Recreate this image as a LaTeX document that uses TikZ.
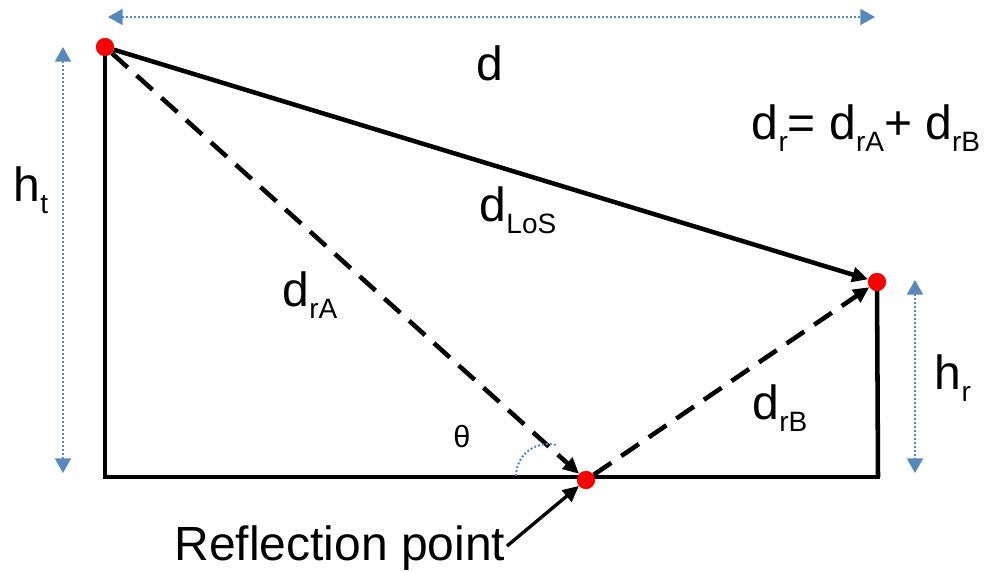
\documentclass[tikz,border=0pt]{standalone}
\usepackage{fontspec}
\setmainfont{Liberation Sans}
\usetikzlibrary{arrows.meta}
\newcommand\sbs[1]{\raisebox{-9pt}{\fontsize{21}{21}\selectfont #1}}
\definecolor{dimblue}{RGB}{84,136,190}
\tikzset{
  lbl/.style={font=\fontsize{36}{40}\selectfont, inner sep=0pt},
  thick line/.style={line width=3.4pt, black},
  dashline/.style={line width=3.4pt, black, dash pattern=on 16pt off 9pt},
  blk arrow/.style={-{Triangle[length=12pt,width=11pt]}},
  dim/.style={dimblue, line width=1.5pt, dash pattern=on 1.5pt off 1.5pt,
    {Triangle[length=11pt,width=12pt]}-{Triangle[length=11pt,width=12pt]}},
  dot/.style={circle, fill=red, minimum size=13.5pt, inner sep=0pt}
}
\begin{document}
\begin{tikzpicture}[x=0.75pt,y=-0.75pt]
\useasboundingbox (0,0) rectangle (986,572);
% points
\node[dot] (A) at (105,47) {};
\node[dot] (B) at (877,282) {};
\node[dot] (R) at (586,480) {};
\coordinate (GL) at (105,477);
\coordinate (GR) at (880,477);
\coordinate (BR) at (878,477);
% frame
\draw[thick line] (A.center) -- (GL) -- (GR);
\draw[thick line] (B.center) -- (BR);
\draw[thick line, blk arrow] (A) -- (B);
\draw[dashline, blk arrow] (A) -- (R);
\draw[dashline, blk arrow] (R) -- (B);
\node[dot] at (A) {};
\node[dot] at (B) {};
\node[dot] at (R) {};
% dimension arrows
\coordinate (T1) at (108,17);
\coordinate (T2) at (875,17);
\draw[dim] (T1) -- (T2);
\coordinate (L1) at (63,47);
\coordinate (L2) at (63,473);
\draw[dim] (L1) -- (L2);
\coordinate (R1) at (915,280);
\coordinate (R2) at (915,473);
\draw[dim] (R1) -- (R2);
% angle arc
\coordinate (th0) at (516,476);
\draw[dimblue, line width=1.5pt, dash pattern=on 1.5pt off 1.5pt] (th0) arc[start angle=180, end angle=287, radius=32];
% labels
\node[lbl] (d) at (490,63) {d};
\node[lbl] (dr) at (866,128) {d\sbs{r}= d\sbs{rA}+ d\sbs{rB}};
\node[lbl] (dlos) at (518,210) {d\sbs{LoS}};
\node[lbl] (ht) at (31,190) {h\sbs{t}};
\node[lbl] (dra) at (310,295) {d\sbs{rA}};
\node[lbl] (hr) at (953,378) {h\sbs{r}};
\node[lbl] (drb) at (780,408) {d\sbs{rB}};
\node[font=\fontsize{23}{26}\selectfont, inner sep=0pt] (th) at (462,437) {θ};
\node[lbl] (rp) at (340,548) {Reflection point};
\coordinate (rpt) at (507,546);
\draw[line width=2.5pt, blk arrow] (rpt) -- (R);
\end{tikzpicture}
\end{document}
